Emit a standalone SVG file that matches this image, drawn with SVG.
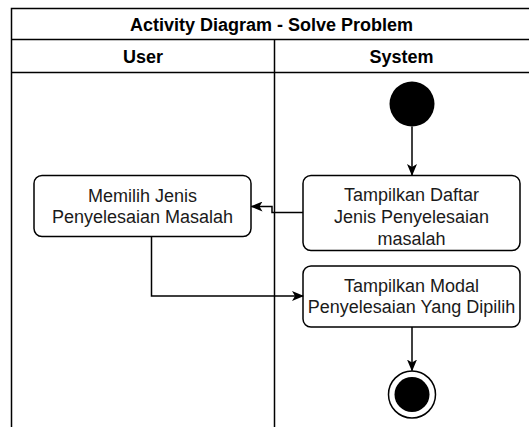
<svg xmlns="http://www.w3.org/2000/svg" width="529" height="427" viewBox="0 0 529 427">
<style>
.lane{fill:none;stroke:#000;stroke-width:1.5}
.node{fill:#fff;stroke:#000;stroke-width:1.5}
.t{font-family:"Liberation Sans",Arial,sans-serif;font-size:18px;fill:#1a1a1a;text-anchor:middle}
.h{font-family:"Liberation Sans",Arial,sans-serif;font-size:18px;font-weight:bold;fill:#000;text-anchor:middle}
.c{fill:none;stroke:#000;stroke-width:1.5}
</style>
<defs>
<marker id="arr" viewBox="0 0 12 10" refX="11" refY="5" markerWidth="12" markerHeight="10" markerUnits="userSpaceOnUse" orient="auto">
<path d="M0,0 L12,5 L0,10 L3,5 Z" fill="#000"/>
</marker>
</defs>
<rect width="529" height="427" fill="#fff"/>
<g id="pool">
<rect x="11.5" y="8.5" width="522" height="430" class="lane"/>
<line x1="11.5" y1="39.5" x2="533" y2="39.5" class="lane"/>
<line x1="11.5" y1="72.5" x2="533" y2="72.5" class="lane"/>
<line x1="274.5" y1="39.5" x2="274.5" y2="430" class="lane"/>
<text x="271.5" y="30.5" class="h">Activity Diagram - Solve Problem</text>
<text x="143" y="63" class="h">User</text>
<text x="401.5" y="63" class="h">System</text>
</g>
<g id="start">
<circle cx="412" cy="104" r="22.5" fill="#000"/>
</g>
<g id="daftar">
<rect x="303" y="175.5" width="217" height="75" rx="8" class="node"/>
<text class="t"><tspan x="411.5" y="201">Tampilkan Daftar</tspan><tspan x="411.5" y="223">Jenis Penyelesaian</tspan><tspan x="411.5" y="245">masalah</tspan></text>
</g>
<g id="memilih">
<rect x="34" y="175.5" width="217" height="61" rx="8" class="node"/>
<text class="t"><tspan x="142.5" y="201.5">Memilih Jenis</tspan><tspan x="142.5" y="223">Penyelesaian Masalah</tspan></text>
</g>
<g id="modal">
<rect x="303" y="266" width="217" height="61" rx="8" class="node"/>
<text class="t"><tspan x="411.5" y="291.5">Tampilkan Modal</tspan><tspan x="411.5" y="312.5">Penyelesaian Yang Dipilih</tspan></text>
</g>
<g id="end">
<circle cx="412" cy="394.5" r="23.5" fill="#fff" stroke="#000" stroke-width="1.5"/>
<circle cx="412" cy="394.5" r="17.5" fill="#000"/>
</g>
<g id="connectors">
<path d="M412,126.5 V175" class="c" marker-end="url(#arr)"/>
<path d="M303,212.5 H272 V206.5 H251.5" class="c" marker-end="url(#arr)"/>
<path d="M151.5,236.5 V296 H303" class="c" marker-end="url(#arr)"/>
<path d="M412,327 V370.5" class="c" marker-end="url(#arr)"/>
</g>
</svg>
